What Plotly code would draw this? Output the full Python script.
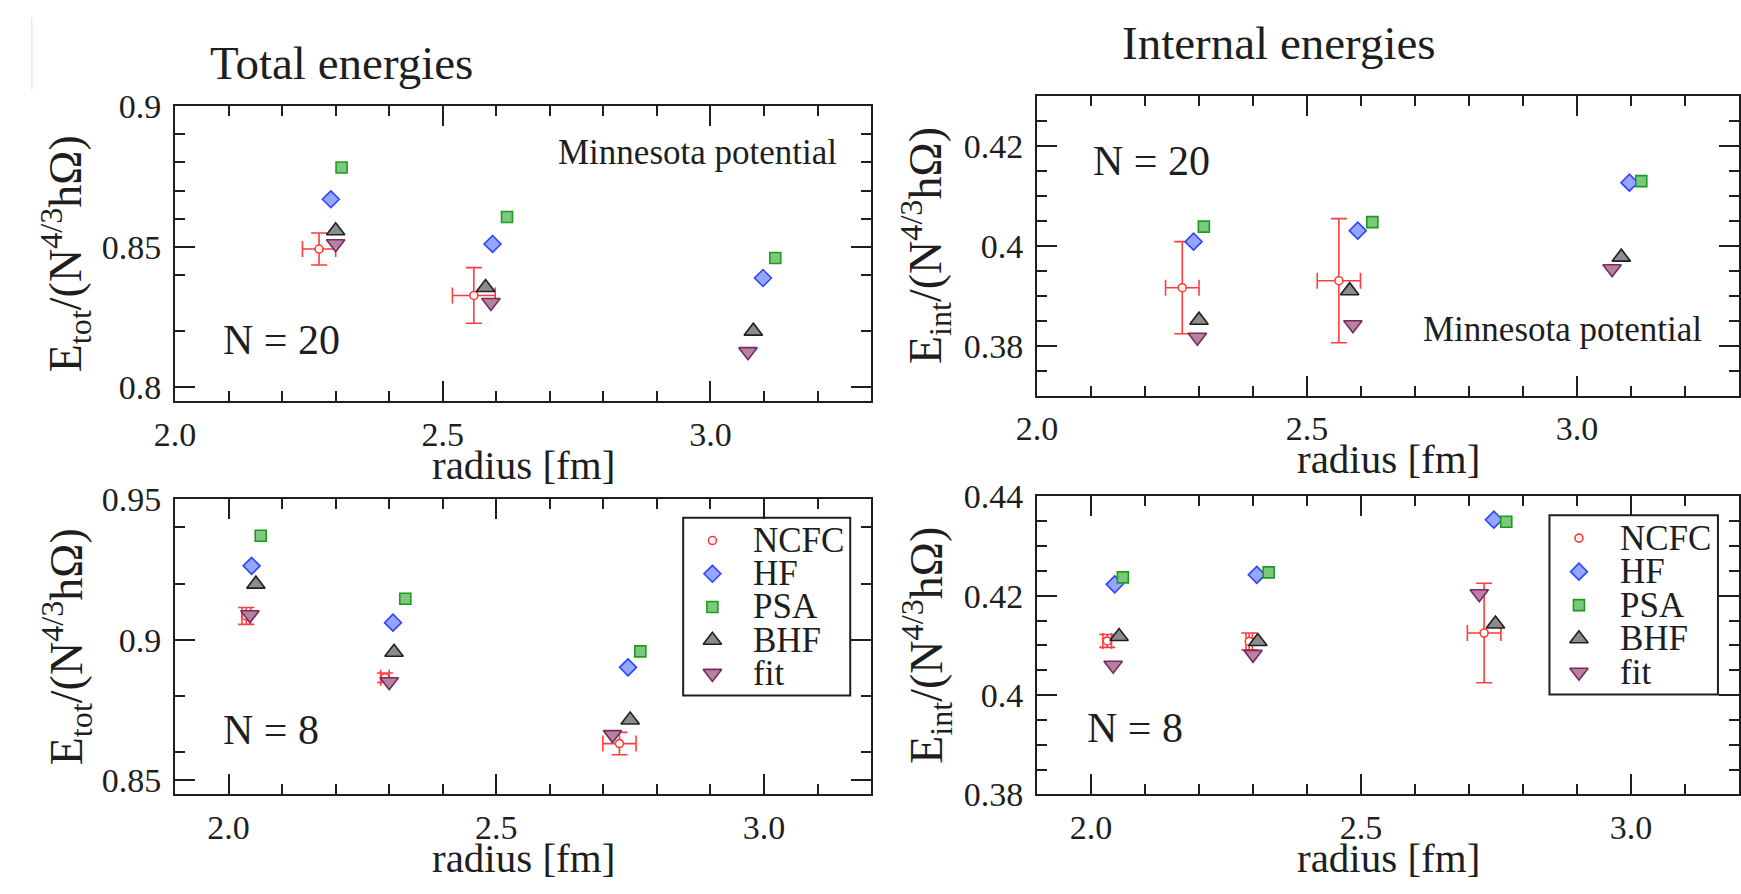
import numpy as np
import plotly.graph_objects as go

# ---------------- data: radius [fm] and energies per method ----------------
# N = 20, total energies E_tot/(N^{4/3} hΩ)
tot20_ncfc_r = [2.269, 2.558]
tot20_ncfc_e = [0.8492, 0.8327]
tot20_ncfc_dr = [0.031, 0.040]
tot20_ncfc_de = [0.0057, 0.0099]
tot20_hf_r = [2.291, 2.593, 3.098]
tot20_hf_e = [0.8669, 0.8510, 0.8389]
tot20_psa_r = [2.311, 2.620, 3.121]
tot20_psa_e = [0.8782, 0.8606, 0.8460]
tot20_bhf_r = [2.300, 2.580, 3.080]
tot20_bhf_e = [0.8557, 0.8355, 0.8200]
tot20_fit_r = [2.300, 2.590, 3.070]
tot20_fit_e = [0.8511, 0.8302, 0.8127]

# N = 20, internal energies E_int/(N^{4/3} hΩ)
int20_ncfc_r = [2.269, 2.559]
int20_ncfc_e = [0.3916, 0.3930]
int20_ncfc_dr = [0.031, 0.040]
int20_ncfc_de = [0.0092, 0.0124]
int20_hf_r = [2.290, 2.594, 3.097]
int20_hf_e = [0.4008, 0.4030, 0.4126]
int20_psa_r = [2.309, 2.621, 3.119]
int20_psa_e = [0.4038, 0.4047, 0.4129]
int20_bhf_r = [2.300, 2.579, 3.082]
int20_bhf_e = [0.3851, 0.3910, 0.3977]
int20_fit_r = [2.297, 2.585, 3.065]
int20_fit_e = [0.3817, 0.3842, 0.3954]

# N = 8, total energies
tot8_ncfc_r = [2.033, 2.292, 2.730]
tot8_ncfc_e = [0.9085, 0.8865, 0.8631]
tot8_ncfc_dr = [0.008, 0.008, 0.031]
tot8_ncfc_de = [0.0030, 0.0017, 0.0040]
tot8_hf_r = [2.043, 2.307, 2.746]
tot8_hf_e = [0.9263, 0.9061, 0.8902]
tot8_psa_r = [2.060, 2.330, 2.769]
tot8_psa_e = [0.9370, 0.9146, 0.8959]
tot8_bhf_r = [2.051, 2.309, 2.750]
tot8_bhf_e = [0.9198, 0.8956, 0.8715]
tot8_fit_r = [2.040, 2.300, 2.717]
tot8_fit_e = [0.9089, 0.8851, 0.8663]

# N = 8, internal energies
int8_ncfc_r = [2.030, 2.293, 2.728]
int8_ncfc_e = [0.4109, 0.4108, 0.4125]
int8_ncfc_dr = [0.008, 0.006, 0.031]
int8_ncfc_de = [0.0013, 0.0017, 0.0100]
int8_hf_r = [2.044, 2.307, 2.746]
int8_hf_e = [0.4223, 0.4242, 0.4353]
int8_psa_r = [2.059, 2.329, 2.769]
int8_psa_e = [0.4237, 0.4247, 0.4349]
int8_bhf_r = [2.052, 2.309, 2.749]
int8_bhf_e = [0.4118, 0.4108, 0.4143]
int8_fit_r = [2.041, 2.300, 2.719]
int8_fit_e = [0.4060, 0.4082, 0.4204]

# tick labels
radius_ticks = [2.0, 2.5, 3.0]
radius_ticktext = ["2.0", "2.5", "3.0"]
tot20_ticks = [0.80, 0.85, 0.90]
tot20_ticktext = ["0.8", "0.85", "0.9"]
int20_ticks = [0.38, 0.40, 0.42]
int20_ticktext = ["0.38", "0.4", "0.42"]
tot8_ticks = [0.85, 0.90, 0.95]
tot8_ticktext = ["0.85", "0.9", "0.95"]
int8_ticks = [0.38, 0.40, 0.42, 0.44]
int8_ticktext = ["0.38", "0.4", "0.42", "0.44"]

method_names = ["NCFC", "HF", "PSA", "BHF", "fit"]

# ---------------- styling ----------------
W, H = 1741, 894
FONT = "Liberation Serif"
INK = "#1e1e1e"
RED = "#ff3b3b"

STYLE = {
    "NCFC": dict(symbol="circle", size=8, color="white", line=dict(color=RED, width=1.6)),
    "HF": dict(symbol="diamond", size=13, color="#96a6ff", line=dict(color="#2a45ff", width=1.6)),
    "PSA": dict(symbol="square", size=11, color="#7cc87c", line=dict(color="#1e9a1e", width=1.6)),
    "BHF": dict(symbol="triangle-up", size=16, color="#8c8c8c", line=dict(color="#202020", width=1.6)),
    "fit": dict(symbol="triangle-down", size=16, color="#b5839f", line=dict(color="#7a2a60", width=1.6)),
}


def px_x(p):
    return p / W


def px_y(p):
    return 1 - p / H


fig = go.Figure()


def add_panel(xa, ya, ncfc, others):
    r, e, dr, de = ncfc
    fig.add_trace(go.Scatter(
        x=r, y=e, mode="markers", name="NCFC", xaxis=xa, yaxis=ya,
        marker=STYLE["NCFC"], showlegend=False,
        error_x=dict(type="data", array=dr, color=RED, thickness=1.6, width=8),
        error_y=dict(type="data", array=de, color=RED, thickness=1.6, width=8),
    ))
    for name, (rr, ee) in zip(method_names[1:], others):
        fig.add_trace(go.Scatter(
            x=rr, y=ee, mode="markers", name=name, xaxis=xa, yaxis=ya,
            marker=STYLE[name], showlegend=False,
        ))


add_panel("x", "y",
          (tot20_ncfc_r, tot20_ncfc_e, tot20_ncfc_dr, tot20_ncfc_de),
          [(tot20_hf_r, tot20_hf_e), (tot20_psa_r, tot20_psa_e),
           (tot20_bhf_r, tot20_bhf_e), (tot20_fit_r, tot20_fit_e)])
add_panel("x2", "y2",
          (int20_ncfc_r, int20_ncfc_e, int20_ncfc_dr, int20_ncfc_de),
          [(int20_hf_r, int20_hf_e), (int20_psa_r, int20_psa_e),
           (int20_bhf_r, int20_bhf_e), (int20_fit_r, int20_fit_e)])
add_panel("x3", "y3",
          (tot8_ncfc_r, tot8_ncfc_e, tot8_ncfc_dr, tot8_ncfc_de),
          [(tot8_hf_r, tot8_hf_e), (tot8_psa_r, tot8_psa_e),
           (tot8_bhf_r, tot8_bhf_e), (tot8_fit_r, tot8_fit_e)])
add_panel("x4", "y4",
          (int8_ncfc_r, int8_ncfc_e, int8_ncfc_dr, int8_ncfc_de),
          [(int8_hf_r, int8_hf_e), (int8_psa_r, int8_psa_e),
           (int8_bhf_r, int8_bhf_e), (int8_fit_r, int8_fit_e)])

# legend keys for the two lower panels, drawn on hidden unit axes
legend_rows = [0.86, 0.7475, 0.635, 0.5225, 0.41]
for xa, ya in (("x5", "y5"), ("x6", "y6")):
    for name, yy in zip(method_names, legend_rows):
        fig.add_trace(go.Scatter(
            x=[0.772], y=[yy], mode="markers", xaxis=xa, yaxis=ya,
            marker=STYLE[name], showlegend=False, hoverinfo="skip",
        ))


def axis(domain, rng, tickvals, ticktext, minor_step, anchor, side, standoff):
    minor_vals = np.round(np.arange(rng[0] - minor_step, rng[1] + minor_step, minor_step)
                          / minor_step) * minor_step
    minor_vals = [float(v) for v in minor_vals
                  if rng[0] - 1e-9 <= v <= rng[1] + 1e-9
                  and all(abs(v - t) > 1e-9 for t in tickvals)]
    return dict(
        domain=domain, range=rng, anchor=anchor, side=side,
        showline=True, linewidth=2, linecolor=INK, mirror="ticks",
        ticks="inside", ticklen=20, tickwidth=2, tickcolor=INK,
        tickmode="array", tickvals=tickvals, ticktext=ticktext,
        tickfont=dict(family=FONT, size=34, color=INK),
        ticklabelstandoff=standoff,
        minor=dict(tickmode="array", tickvals=minor_vals, ticks="inside",
                   ticklen=10, tickwidth=2, tickcolor=INK),
        showgrid=False, zeroline=False, fixedrange=True,
    )


# frame positions in pixels (left, right, top, bottom)
TL = (156, 861, 92, 400)
TR = (1029, 1740, 81, 394)
BL = (156, 861, 502, 810)
BR = (1029, 1740, 499, 810)


def xdom(b):
    return [px_x(b[0]), px_x(b[1])]


def ydom(b):
    return [px_y(b[3]), px_y(b[2])]


XS, YS = 2, 5
layout = dict(
    width=W, height=H, margin=dict(l=0, r=0, t=0, b=0),
    paper_bgcolor="white", plot_bgcolor="white", showlegend=False,
    font=dict(family=FONT, color=INK),
    xaxis=axis(xdom(TL), [2.0, 3.3], radius_ticks, radius_ticktext, 0.1, "y", "bottom", XS),
    yaxis=axis(ydom(TL), [0.795, 0.9], tot20_ticks, tot20_ticktext, 0.01, "x", "left", YS),
    xaxis2=axis(xdom(TR), [2.0, 3.3], radius_ticks, radius_ticktext, 0.1, "y2", "bottom", XS),
    yaxis2=axis(ydom(TR), [0.37, 0.43], int20_ticks, int20_ticktext, 0.005, "x2", "left", YS),
    xaxis3=axis(xdom(BL), [1.9, 3.2], radius_ticks, radius_ticktext, 0.1, "y3", "bottom", XS),
    yaxis3=axis(ydom(BL), [0.845, 0.95], tot8_ticks, tot8_ticktext, 0.01, "x3", "left", YS),
    xaxis4=axis(xdom(BR), [1.9, 3.2], radius_ticks, radius_ticktext, 0.1, "y4", "bottom", XS),
    yaxis4=axis(ydom(BR), [0.38, 0.44], int8_ticks, int8_ticktext, 0.005, "x4", "left", YS),
    xaxis5=dict(overlaying="x3", range=[0, 1], visible=False, fixedrange=True),
    yaxis5=dict(overlaying="y3", range=[0, 1], visible=False, fixedrange=True),
    xaxis6=dict(overlaying="x4", range=[0, 1], visible=False, fixedrange=True),
    yaxis6=dict(overlaying="y4", range=[0, 1], visible=False, fixedrange=True),
)
fig.update_layout(**layout)

ann = []


def text(x, y, s, size, xref="paper", yref="paper", angle=0, xanchor="center"):
    ann.append(dict(x=x, y=y, xref=xref, yref=yref, text=s, showarrow=False,
                    xanchor=xanchor, yanchor="middle", textangle=angle,
                    font=dict(family=FONT, size=size, color=INK)))


# column headings
text(px_x(325), px_y(47), "Total energies", 47)
text(px_x(1274), px_y(26), "Internal energies", 47)

# axis titles
for b, ytitle, xc in ((TL, "E<sub>tot</sub>/(N<sup>4/3</sup>hΩ)", 45),
                      (TR, "E<sub>int</sub>/(N<sup>4/3</sup>hΩ)", 916),
                      (BL, "E<sub>tot</sub>/(N<sup>4/3</sup>hΩ)", 46),
                      (BR, "E<sub>int</sub>/(N<sup>4/3</sup>hΩ)", 917)):
    text(px_x(xc), px_y((b[2] + b[3]) / 2), ytitle, 46, angle=-90)
    text(px_x((b[0] + b[1]) / 2), px_y(b[3] + 66), "radius [fm]", 41)

# panel labels
text(2.199, 0.8168, "N = 20", 42, "x", "y")
text(2.975, 0.8836, "Minnesota potential", 35, "x", "y")
text(2.212, 0.4170, "N = 20", 42, "x2", "y2")
text(2.974, 0.3832, "Minnesota potential", 35, "x2", "y2")
text(2.079, 0.8680, "N = 8", 42, "x3", "y3")
text(2.081, 0.3933, "N = 8", 42, "x4", "y4")

# legend labels
for ax, yax in (("x3", "y3"), ("x4", "y4")):
    for name, yy in zip(method_names, legend_rows):
        text(0.827, yy, name, 35, ax + " domain", yax + " domain", xanchor="left")

fig.update_layout(annotations=ann)

shapes = []
for ax, yax in (("x3", "y3"), ("x4", "y4")):
    shapes.append(dict(type="rect", xref=ax + " domain", yref=yax + " domain",
                       x0=0.73, x1=0.97, y0=0.335, y1=0.937,
                       line=dict(color=INK, width=2), fillcolor="rgba(0,0,0,0)"))
# thin page-edge line at top left
shapes.append(dict(type="line", xref="paper", yref="paper",
                   x0=px_x(11), x1=px_x(11), y0=px_y(0), y1=px_y(75),
                   line=dict(color="#fbe3d2", width=1.5)))
fig.update_layout(shapes=shapes)

fig.write_html("out.html")
